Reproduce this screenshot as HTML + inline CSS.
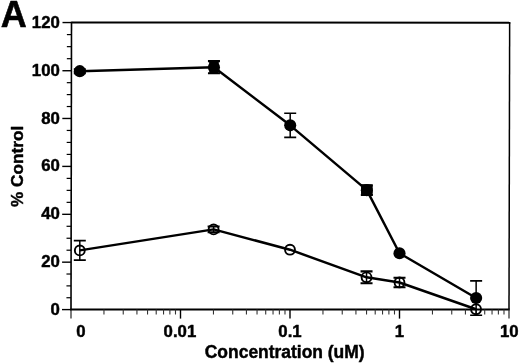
<!DOCTYPE html>
<html><head><meta charset="utf-8"><title>Chart</title>
<style>
html,body{margin:0;padding:0;background:#fff;}
body{width:520px;height:363px;overflow:hidden;position:relative;font-family:"Liberation Sans",sans-serif;}
</style></head><body>
<svg width="520" height="363" viewBox="0 0 520 363" style="display:block;position:absolute;left:0;top:0;will-change:transform">
<rect width="520" height="363" fill="#fff"/>
<g stroke="#000" fill="none" stroke-linecap="butt">
<path d="M71.5 21.7 L71.0 309.6" stroke-width="1.6"/>
<path d="M71.0 309.6 V318.6" stroke-width="1.2" stroke="#222"/>
<path d="M70.2 309.6 H509.7" stroke-width="2.0"/>
<path d="M71.5 22.45 L510.34999999999997 22.7" stroke-width="1.9"/>
<path d="M509.65 22.5 L509.0 309.6" stroke-width="1.5"/>
<path d="M509.0 309.6 V318.6" stroke-width="1.2" stroke="#222"/>
<path d="M62.00 309.60 H71.00" stroke-width="1.4"/>
<path d="M66.42 297.74 H71.02" stroke-width="1.2"/>
<path d="M66.44 285.88 H71.04" stroke-width="1.2"/>
<path d="M66.46 274.02 H71.06" stroke-width="1.2"/>
<path d="M62.08 262.17 H71.08" stroke-width="1.4"/>
<path d="M66.50 250.21 H71.10" stroke-width="1.2"/>
<path d="M66.52 238.25 H71.12" stroke-width="1.2"/>
<path d="M66.54 226.29 H71.14" stroke-width="1.2"/>
<path d="M62.17 214.33 H71.17" stroke-width="1.4"/>
<path d="M66.59 202.35 H71.19" stroke-width="1.2"/>
<path d="M66.61 190.37 H71.21" stroke-width="1.2"/>
<path d="M66.63 178.38 H71.23" stroke-width="1.2"/>
<path d="M62.25 166.40 H71.25" stroke-width="1.4"/>
<path d="M66.67 154.42 H71.27" stroke-width="1.2"/>
<path d="M66.69 142.43 H71.29" stroke-width="1.2"/>
<path d="M66.71 130.45 H71.31" stroke-width="1.2"/>
<path d="M62.33 118.47 H71.33" stroke-width="1.4"/>
<path d="M66.75 106.53 H71.35" stroke-width="1.2"/>
<path d="M66.77 94.60 H71.37" stroke-width="1.2"/>
<path d="M66.80 82.67 H71.40" stroke-width="1.2"/>
<path d="M62.42 70.73 H71.42" stroke-width="1.4"/>
<path d="M66.84 58.69 H71.44" stroke-width="1.2"/>
<path d="M66.86 46.64 H71.46" stroke-width="1.2"/>
<path d="M66.88 34.60 H71.48" stroke-width="1.2"/>
<path d="M62.50 22.55 H71.50" stroke-width="1.4"/>
<path d="M103.96 309.6 V314.5" stroke-width="1.1" stroke="#333"/>
<path d="M123.24 309.6 V314.5" stroke-width="1.1" stroke="#333"/>
<path d="M136.93 309.6 V314.5" stroke-width="1.1" stroke="#333"/>
<path d="M147.54 309.6 V314.5" stroke-width="1.1" stroke="#333"/>
<path d="M156.21 309.6 V314.5" stroke-width="1.1" stroke="#333"/>
<path d="M163.54 309.6 V314.5" stroke-width="1.1" stroke="#333"/>
<path d="M169.89 309.6 V314.5" stroke-width="1.1" stroke="#333"/>
<path d="M175.49 309.6 V314.5" stroke-width="1.1" stroke="#333"/>
<path d="M180.50 309.6 V318.6" stroke-width="1.4"/>
<path d="M213.46 309.6 V314.5" stroke-width="1.1" stroke="#333"/>
<path d="M232.74 309.6 V314.5" stroke-width="1.1" stroke="#333"/>
<path d="M246.43 309.6 V314.5" stroke-width="1.1" stroke="#333"/>
<path d="M257.04 309.6 V314.5" stroke-width="1.1" stroke="#333"/>
<path d="M265.71 309.6 V314.5" stroke-width="1.1" stroke="#333"/>
<path d="M273.04 309.6 V314.5" stroke-width="1.1" stroke="#333"/>
<path d="M279.39 309.6 V314.5" stroke-width="1.1" stroke="#333"/>
<path d="M284.99 309.6 V314.5" stroke-width="1.1" stroke="#333"/>
<path d="M290.00 309.6 V318.6" stroke-width="1.4"/>
<path d="M322.96 309.6 V314.5" stroke-width="1.1" stroke="#333"/>
<path d="M342.24 309.6 V314.5" stroke-width="1.1" stroke="#333"/>
<path d="M355.93 309.6 V314.5" stroke-width="1.1" stroke="#333"/>
<path d="M366.54 309.6 V314.5" stroke-width="1.1" stroke="#333"/>
<path d="M375.21 309.6 V314.5" stroke-width="1.1" stroke="#333"/>
<path d="M382.54 309.6 V314.5" stroke-width="1.1" stroke="#333"/>
<path d="M388.89 309.6 V314.5" stroke-width="1.1" stroke="#333"/>
<path d="M394.49 309.6 V314.5" stroke-width="1.1" stroke="#333"/>
<path d="M399.50 309.6 V318.6" stroke-width="1.4"/>
<path d="M432.46 309.6 V314.5" stroke-width="1.1" stroke="#333"/>
<path d="M451.74 309.6 V314.5" stroke-width="1.1" stroke="#333"/>
<path d="M465.43 309.6 V314.5" stroke-width="1.1" stroke="#333"/>
<path d="M476.04 309.6 V314.5" stroke-width="1.1" stroke="#333"/>
<path d="M484.71 309.6 V314.5" stroke-width="1.1" stroke="#333"/>
<path d="M492.04 309.6 V314.5" stroke-width="1.1" stroke="#333"/>
<path d="M498.39 309.6 V314.5" stroke-width="1.1" stroke="#333"/>
<path d="M503.99 309.6 V314.5" stroke-width="1.1" stroke="#333"/>
</g>
<path d="M79.80 250.38 L213.61 229.38 L290.00 249.71 L366.54 277.33 L399.50 282.47 L476.04 309.26" stroke="#000" stroke-width="2.45" fill="none" stroke-linejoin="round"/>
<path d="M79.80 240.69 V260.06" stroke="#000" stroke-width="1.5" fill="none"/>
<path d="M73.80 240.69 H85.80 M73.80 260.06 H85.80" stroke="#000" stroke-width="1.7" fill="none"/>
<circle cx="79.80" cy="250.38" r="4.95" fill="none" stroke="#000" stroke-width="1.9"/>
<path d="M213.61 226.51 V232.25" stroke="#000" stroke-width="1.5" fill="none"/>
<path d="M207.61 226.51 H219.61 M207.61 232.25 H219.61" stroke="#000" stroke-width="2.1" fill="none"/>
<circle cx="213.61" cy="229.38" r="4.95" fill="none" stroke="#000" stroke-width="1.9"/>
<circle cx="290.00" cy="249.71" r="4.95" fill="none" stroke="#000" stroke-width="1.9"/>
<path d="M366.54 271.35 V283.31" stroke="#000" stroke-width="1.5" fill="none"/>
<path d="M360.54 271.35 H372.54 M360.54 283.31 H372.54" stroke="#000" stroke-width="2.1" fill="none"/>
<circle cx="366.54" cy="277.33" r="4.95" fill="none" stroke="#000" stroke-width="1.9"/>
<path d="M399.50 277.69 V287.26" stroke="#000" stroke-width="1.5" fill="none"/>
<path d="M393.50 277.69 H405.50 M393.50 287.26 H405.50" stroke="#000" stroke-width="2.1" fill="none"/>
<circle cx="399.50" cy="282.47" r="4.95" fill="none" stroke="#000" stroke-width="1.9"/>
<circle cx="476.04" cy="309.26" r="4.95" fill="none" stroke="#000" stroke-width="1.9"/>
<path d="M79.80 71.17 L213.96 67.22 L290.20 125.34 L366.84 190.16 L399.50 253.30 L476.14 298.02" stroke="#000" stroke-width="2.45" fill="none" stroke-linejoin="round"/>
<path d="M79.80 69.26 V73.08" stroke="#000" stroke-width="1.5" fill="none"/>
<path d="M73.80 69.26 H85.80 M73.80 73.08 H85.80" stroke="#000" stroke-width="2.1" fill="none"/>
<circle cx="79.80" cy="71.17" r="6.05" fill="#000"/>
<path d="M213.96 61.13 V73.32" stroke="#000" stroke-width="1.5" fill="none"/>
<path d="M207.96 61.13 H219.96 M207.96 73.32 H219.96" stroke="#000" stroke-width="2.1" fill="none"/>
<circle cx="213.96" cy="67.22" r="6.05" fill="#000"/>
<path d="M290.20 113.26 V137.42" stroke="#000" stroke-width="1.5" fill="none"/>
<path d="M284.20 113.26 H296.20 M284.20 137.42 H296.20" stroke="#000" stroke-width="1.7" fill="none"/>
<circle cx="290.20" cy="125.34" r="6.05" fill="#000"/>
<path d="M366.84 185.25 V195.06" stroke="#000" stroke-width="1.5" fill="none"/>
<path d="M360.84 185.25 H372.84 M360.84 195.06 H372.84" stroke="#000" stroke-width="2.1" fill="none"/>
<circle cx="366.84" cy="190.16" r="6.05" fill="#000"/>
<circle cx="399.50" cy="253.30" r="6.05" fill="#000"/>
<path d="M476.14 280.80 V315.24" stroke="#000" stroke-width="1.5" fill="none"/>
<path d="M470.14 280.80 H482.14 M470.14 315.24 H482.14" stroke="#000" stroke-width="1.7" fill="none"/>
<circle cx="476.14" cy="298.02" r="6.05" fill="#000"/>
<rect x="361.04" y="184.56" width="11.6" height="11.3" rx="1.6" fill="#000"/>
<rect x="209.26" y="60.82" width="9.4" height="12.8" rx="1.5" fill="#000"/>
<g font-family="Liberation Sans, sans-serif" font-weight="bold" fill="#000" stroke="#000" stroke-width="0.45" stroke-linejoin="round" font-size="16.8">
<text x="59.8" y="314.90" text-anchor="end">0</text>
<text x="59.8" y="267.07" text-anchor="end">20</text>
<text x="59.8" y="219.23" text-anchor="end">40</text>
<text x="59.8" y="171.40" text-anchor="end">60</text>
<text x="59.8" y="123.57" text-anchor="end">80</text>
<text x="59.8" y="75.73" text-anchor="end">100</text>
<text x="59.8" y="27.90" text-anchor="end">120</text>
<text x="81.00" y="336.7" text-anchor="middle">0</text>
<text x="179.90" y="336.7" text-anchor="middle">0.01</text>
<text x="290.00" y="336.7" text-anchor="middle">0.1</text>
<text x="399.50" y="336.7" text-anchor="middle">1</text>
<text x="509.30" y="336.7" text-anchor="middle">10</text>
<text x="284.7" y="358.1" text-anchor="middle" font-size="17.45">Concentration (uM)</text>
<text transform="translate(22.7 166.4) rotate(-90)" text-anchor="middle" font-size="17.2">% Control</text>
<text x="0.8" y="26.5" font-size="36.0" stroke-width="0.6">A</text>
</g>
</svg>
</body></html>
